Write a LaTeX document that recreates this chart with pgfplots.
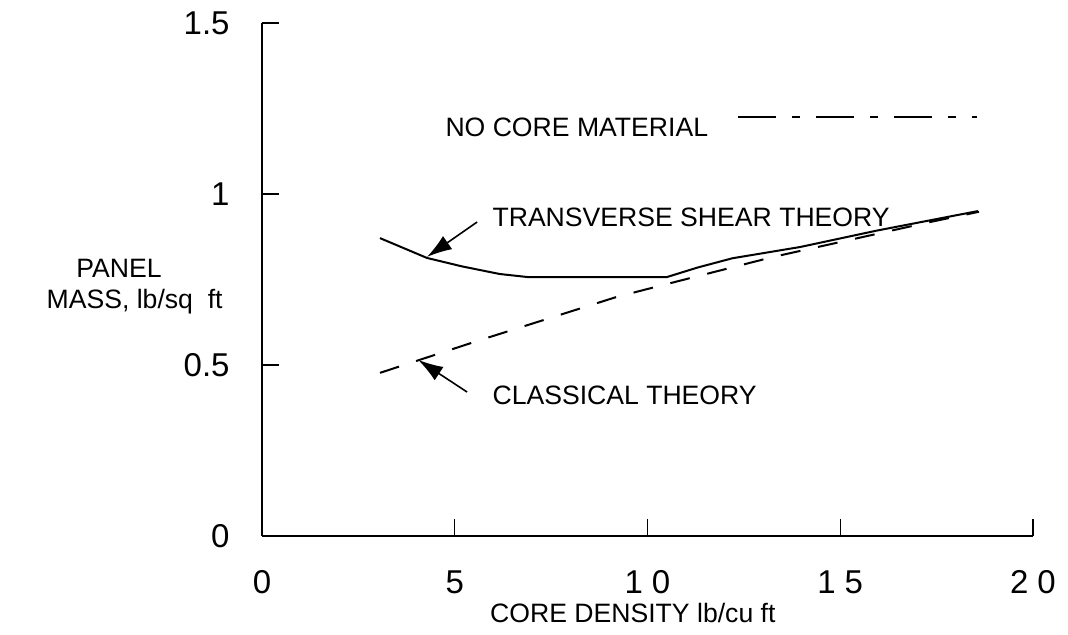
\documentclass[border=0pt]{standalone}
\usepackage{fontspec}
\setmainfont{Liberation Sans}
\usepackage{pgfplots}
\pgfplotsset{compat=1.18}
\usetikzlibrary{arrows.meta}
\begin{document}
\begin{tikzpicture}
\path[use as bounding box] (-131pt,-49.5pt) rectangle (403pt,268pt);
\begin{axis}[
  at={(0,0)}, anchor=south west,
  scale only axis, width=385.5pt, height=256.5pt,
  xmin=0, xmax=20, ymin=0, ymax=1.5,
  axis x line=bottom, axis y line=left,
  axis line style={-, line width=0.8pt},
  tick style={line width=0.6pt, black},
  major tick length=8.5pt, tick align=inside,
  xtick={0,5,10,15,20}, xticklabels={0,5,1\kern4.5pt0,1\kern4.5pt5,2\kern4.5pt0},
  ytick={0,0.5,1,1.5}, yticklabels={0,0.5,1,1.5},
  ticklabel style={font=\fontsize{16.5}{18}\selectfont},
  xticklabel style={anchor=north, inner sep=0pt, yshift=-17pt},
  yticklabel style={anchor=east, inner sep=0pt, xshift=-16pt},
  clip=false,
  every axis plot/.append style={line width=1pt, black},
]
\addplot[no marks] coordinates {(3.06,0.871) (4.28,0.813) (5.2,0.788) (6.17,0.766) (6.9,0.757) (10.5,0.757) (11.3,0.785) (12.2,0.812) (13.96,0.845) (15.95,0.893) (18.57,0.950)};
\addplot[no marks, dash pattern=on 10pt off 9pt] coordinates {(3.06,0.477) (5.58,0.570) (9.2,0.699) (10.2,0.728) (13.26,0.816) (17.33,0.918) (18.6,0.948)};
\addplot[no marks, line width=0.9pt, dash pattern=on 19pt off 8pt on 4pt off 8pt] coordinates {(12.35,1.225) (18.55,1.225)};
\draw[-{Latex[length=12.5pt,width=8pt]}, line width=0.8pt] (axis cs:5.58,0.918) -- (axis cs:4.28,0.816);
\draw[-{Latex[length=12.5pt,width=8pt]}, line width=0.8pt] (axis cs:5.32,0.421) -- (axis cs:4.05,0.515);
\node[anchor=west, inner sep=0pt, font=\fontsize{13.3}{15}\selectfont] at (axis cs:4.75,1.196) {NO CORE MATERIAL};
\node[anchor=west, inner sep=0pt, font=\fontsize{13.3}{15}\selectfont] at (axis cs:5.97,0.933) {TRANSVERSE SHEAR THEORY};
\node[anchor=west, inner sep=0pt, font=\fontsize{13.3}{15}\selectfont] at (axis cs:5.97,0.412) {CLASSICAL THEORY};
\node[anchor=west, inner sep=0pt, font=\fontsize{13.3}{15}\selectfont] at (axis cs:5.91,-0.225) {CORE DENSITY lb/cu ft};
\node[anchor=east, inner sep=0pt, font=\fontsize{13.3}{15}\selectfont] at (axis cs:-2.594,0.784) {PANEL};
\node[anchor=east, inner sep=0pt, font=\fontsize{13.3}{15}\selectfont] at (axis cs:-1.012,0.684) {MASS,\ lb/sq\ \ ft};
\end{axis}
\end{tikzpicture}
\end{document}
